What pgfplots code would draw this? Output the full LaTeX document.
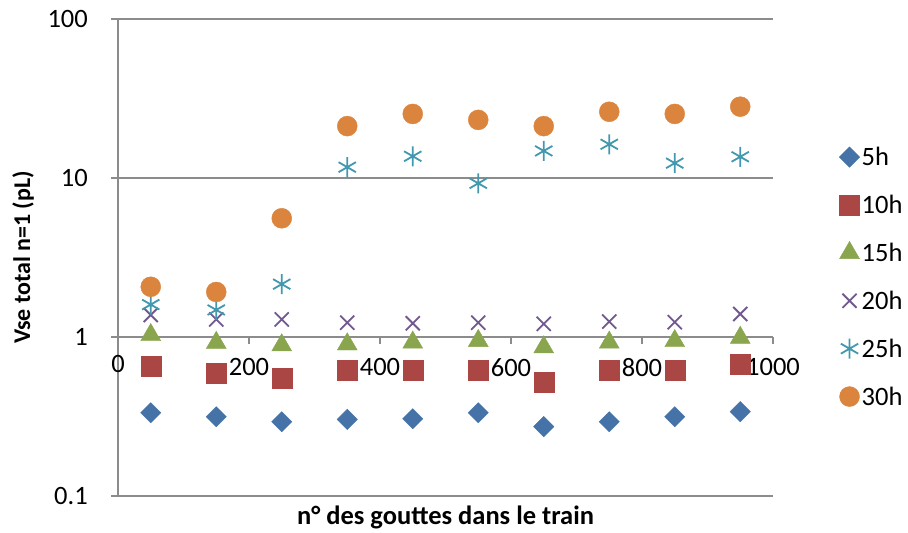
\documentclass[border=0pt]{standalone}
\usepackage{fontspec}
\setmainfont{Carlito}
\usepackage{pgfplots}
\pgfplotsset{compat=1.18}

\definecolor{c5h}{HTML}{4572A7}
\definecolor{c10h}{HTML}{AA4643}
\definecolor{c15h}{HTML}{89A54E}
\definecolor{c20h}{HTML}{71588F}
\definecolor{c25h}{HTML}{4198AF}
\definecolor{c30h}{HTML}{DB843D}
\definecolor{axgray}{HTML}{8C8C8C}

\begin{document}
\begin{tikzpicture}
\path[use as bounding box] (0,0) rectangle (908pt,533pt);
\begin{axis}[
    at={(118pt,37pt)}, anchor=south west,
    scale only axis, width=655pt, height=477pt,
    xmin=0, xmax=1000, ymin=0.1, ymax=100, ymode=log,
    axis x line*=middle, axis y line*=left,
    axis line style={axgray, line width=1.5pt},
    xtick={0,200,400,600,800,1000},
    xticklabels={0,200,400,600,800,1000},
    ytick={0.1,1,10,100},
    yticklabels={0.1,1,10,100},
    minor ytick={}, yminorticks=false,
    ytick align=outside,
    xtick align=center,
    major tick length=7pt,
    tick style={axgray, line width=1.5pt},
    x tick style={yshift=-3.5pt},
    ymajorgrids, grid style={axgray, line width=1.5pt},
    tick label style={font=\fontsize{26.5}{30}\selectfont},
    /pgf/number format/assume math mode=true,
    xticklabel style={anchor=north, inner sep=0pt, yshift=-18pt},
    yticklabel style={anchor=east, inner sep=0pt, xshift=-23pt},
    xlabel={\textbf{n° des gouttes dans le train}},
    ylabel={\textbf{Vse total n=1 (pL)}},
    xlabel style={font=\fontsize{26.5}{30}\selectfont,
        at={(rel axis cs:0.5,-0.046)}, anchor=center},
    ylabel style={font=\fontsize{24}{28}\selectfont,
        at={(rel axis cs:-0.145,0.5)}, anchor=center},
    legend style={at={(1.101,0.736)}, anchor=north west, draw=none, fill=none,
        font=\fontsize{26.5}{30}\selectfont, row sep=24pt, inner sep=0pt},
    legend cell align=left,
    clip=false,
]
\addplot[only marks, mark=square*, mark size=7.2pt, color=c5h,
    mark options={rotate=45, fill=c5h, draw=c5h}] coordinates {
    (50,0.334) (150,0.315) (250,0.293) (350,0.303) (450,0.306)
    (550,0.334) (650,0.273) (750,0.293) (850,0.315) (950,0.339)
};
\addplot[only marks, mark=square*, mark size=10pt, color=c10h,
    mark options={fill=c10h, draw=c10h}] coordinates {
    (50,0.660) (150,0.596) (250,0.550) (350,0.614) (450,0.620)
    (550,0.620) (650,0.523) (750,0.614) (850,0.614) (950,0.673)
};
\addplot[only marks, mark=triangle*, mark size=11.5pt, color=c15h,
    mark options={fill=c15h, draw=c15h}] coordinates {
    (50,1.03) (150,0.92) (250,0.888) (350,0.90) (450,0.924)
    (550,0.946) (650,0.863) (750,0.924) (850,0.944) (950,0.99)
};
\addplot[only marks, mark=x, mark size=10pt, color=c20h,
    mark options={line width=1.8pt}] coordinates {
    (50,1.375) (150,1.29) (250,1.29) (350,1.23) (450,1.22)
    (550,1.23) (650,1.21) (750,1.25) (850,1.24) (950,1.395)
};
\addplot[only marks, mark=asterisk, mark size=10pt, color=c25h,
    mark options={line width=1.8pt}] coordinates {
    (50,1.60) (150,1.48) (250,2.15) (350,11.7) (450,13.7)
    (550,9.26) (650,14.8) (750,16.3) (850,12.4) (950,13.6)
};
\addplot[only marks, mark=*, mark size=10pt, color=c30h,
    mark options={fill=c30h, draw=c30h}] coordinates {
    (50,2.07) (150,1.92) (250,5.58) (350,21.2) (450,25.3)
    (550,23.2) (650,21.2) (750,26.1) (850,25.3) (950,28.1)
};
\legend{5h,10h,15h,20h,25h,30h}
% the tick label at the crossing point is dropped by pgfplots, so set it here
\node[anchor=north, inner sep=0pt, yshift=-18pt, font=\fontsize{26.5}{30}\selectfont]
    at (axis cs:0,1) {0};
\end{axis}
\end{tikzpicture}
\end{document}
